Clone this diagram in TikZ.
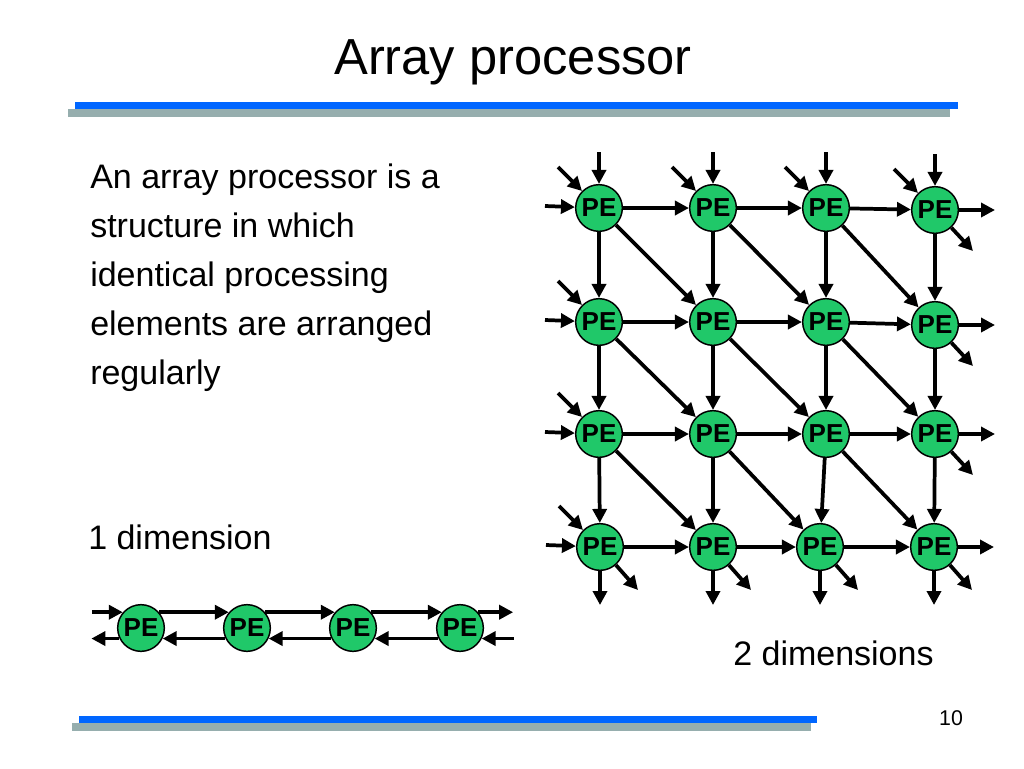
\documentclass[tikz,border=0pt]{standalone}
\usepackage{fontspec}
\setmainfont{Liberation Sans}
\usetikzlibrary{arrows.meta,calc}
\definecolor{pegreen}{RGB}{32,200,105}
\definecolor{barblue}{RGB}{0,102,255}
\definecolor{bargray}{RGB}{150,174,174}
\begin{document}
\begin{tikzpicture}[x=0.75pt,y=-0.75pt,
  pe/.style={circle,fill=pegreen,draw=black,line width=1.1pt,minimum size=35pt,inner sep=0pt,
             font=\fontsize{19.5}{19.5}\selectfont\bfseries},
  arr/.style={line width=2.8pt,-{Triangle[length=10.5pt,width=10.5pt]}},
  body/.style={anchor=base west,inner sep=0pt,font=\fontsize{25.5}{30}\selectfont}]
\fill[white] (0,0) rectangle (1024,768);
\useasboundingbox (0,0) rectangle (1024,768);

% title and bars
\node[anchor=base,inner sep=0pt,font=\fontsize{38}{42}\selectfont] (title) at (513,74) {Array processor};
\fill[barblue] (75,102) rectangle (958,109);
\fill[bargray] (68,109) rectangle (950,117);
\fill[barblue] (79,716) rectangle (817,723);
\fill[bargray] (72,723) rectangle (811,731);
\node[font=\fontsize{16}{18}\selectfont] (pnum) at (951,718) {10};

% body text
\node[body] (t1) at (90,188) {An array processor is a};
\node[body] (t2) at (90,237) {structure in which};
\node[body] (t3) at (90,286) {identical processing};
\node[body] (t4) at (90,335) {elements are arranged};
\node[body] (t5) at (90,384) {regularly};
\node[body] (d1) at (88,549) {1 dimension};
\node[body] (d2) at (733,665) {2 dimensions};

% 2D grid nodes
\foreach \i/\j/\x/\y in {1/1/599/208,1/2/713/208,1/3/826/208,1/4/935/210,
                         2/1/599/322,2/2/713/322,2/3/826/322,2/4/935/325,
                         3/1/599/434,3/2/713/434,3/3/826/434,3/4/935/434,
                         4/1/600/547,4/2/713/547,4/3/820/547,4/4/934/547}
  {\node[pe] (p\i\j) at (\x,\y) {PE};}

% internal connectors
\foreach \i in {1,...,4}{
  \foreach \j in {1,...,3}{
    \pgfmathtruncatemacro\nxj{\j+1}
    \draw[arr] (p\i\j) -- (p\i\nxj);
    \draw[arr] (p\j\i) -- (p\nxj\i);
  }
}
\foreach \i in {1,...,3}{
  \foreach \j in {1,...,3}{
    \pgfmathtruncatemacro\nxi{\i+1}
    \pgfmathtruncatemacro\nxj{\j+1}
    \draw[arr] (p\i\j) -- (p\nxi\nxj);
  }
}

% incoming at top
\foreach \j in {1,...,4}{
  \path (p1\j.center) ++(0,-56) coordinate (tv\j);
  \draw[arr] (tv\j) -- (p1\j);
  \path (p1\j.center) ++(-41,-41) coordinate (td\j);
  \draw[arr] (td\j) -- (p1\j);
}
% incoming at left
\foreach \i in {1,...,4}{
  \path (p\i1.center) ++(-54,-2) coordinate (lh\i);
  \draw[arr] (lh\i) -- (p\i1);
}
\foreach \i in {2,...,4}{
  \path (p\i1.center) ++(-41,-41) coordinate (ld\i);
  \draw[arr] (ld\i) -- (p\i1);
}
% outgoing at right
\foreach \i in {1,...,4}{
  \path (p\i4.center) ++(60,0) coordinate (ro\i);
  \draw[arr] (p\i4) -- (ro\i);
}
\foreach \i in {1,...,3}{
  \path (p\i4.center) ++(38,41) coordinate (rd\i);
  \draw[arr] (p\i4) -- (rd\i);
}
% outgoing at bottom
\foreach \j in {1,...,4}{
  \path (p4\j.center) ++(0,58) coordinate (bo\j);
  \draw[arr] (p4\j) -- (bo\j);
  \path (p4\j.center) ++(38,43) coordinate (bd\j);
  \draw[arr] (p4\j) -- (bd\j);
}

% 1D array
\foreach \k/\x in {1/141,2/247,3/353,4/460}
  {\node[pe] (q\k) at (\x,628) {PE};}
\path (q1.139) ++(-31,0) coordinate (qin);
\path (q1.206) ++(-28,0) coordinate (qout);
\path (q4.41) ++(35,0) coordinate (rout);
\path (q4.-26) ++(32,0) coordinate (rin);
\draw[arr] (qin) -- (q1.139);
\draw[arr] (q1.-154) -- (qout);
\draw[arr] (q4.41) -- (rout);
\draw[arr] (rin) -- (q4.-26);
\foreach \a/\b in {1/2,2/3,3/4}{
  \draw[arr] (q\a.41) -- (q\b.139);
  \draw[arr] (q\b.206) -- (q\a.-26);
}
\end{tikzpicture}
\end{document}
